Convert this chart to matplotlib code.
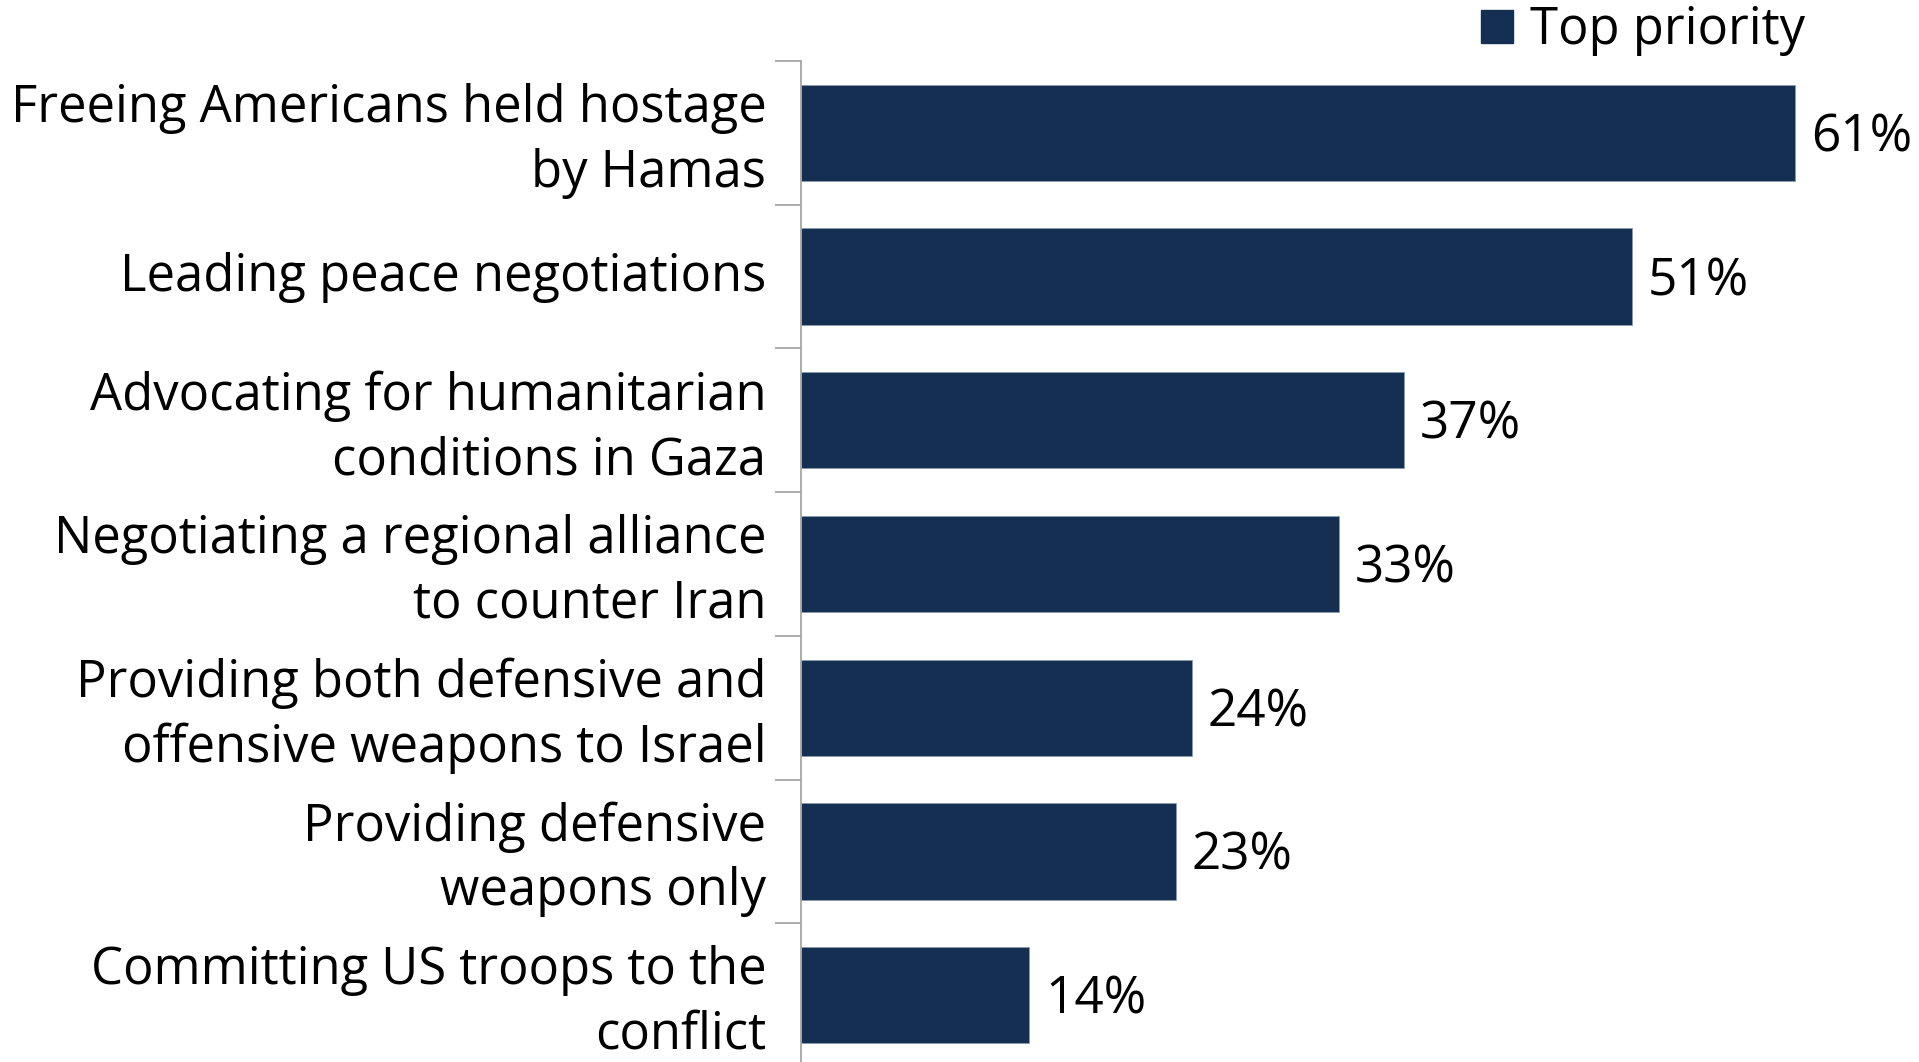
import numpy as np
import matplotlib.pyplot as plt
import matplotlib.transforms as mtransforms
from matplotlib.patches import Patch

categories = [
    "Freeing Americans held hostage\nby Hamas",
    "Leading peace negotiations",
    "Advocating for humanitarian\nconditions in Gaza",
    "Negotiating a regional alliance\nto counter Iran",
    "Providing both defensive and\noffensive weapons to Israel",
    "Providing defensive\nweapons only",
    "Committing US troops to the\nconflict",
]
top_priority = [61, 51, 37, 33, 24, 23, 14]

bar_color = '#152F52'
plt.rcParams['font.family'] = ['Open Sans', 'DejaVu Sans']

W, H = 1919, 1062
fig = plt.figure(figsize=(W / 100, H / 100), dpi=100)
ax_left, ax_top, ax_bottom = 801, 61, 1067
ax = fig.add_axes([ax_left / W, (H - ax_bottom) / H, (W - ax_left) / W, (ax_bottom - ax_top) / H])

y = np.arange(len(categories))
ax.barh(y, top_priority, height=0.67, color=bar_color, edgecolor='#8a9bb0', linewidth=0.6)
ax.set_ylim(len(categories) - 0.5, -0.5)
ax.set_xlim(0, (W - ax_left) / 16.29)

for yi, v in zip(y, top_priority):
    ax.annotate(f"{v}%", (v, yi), xytext=(16, -5), textcoords='offset pixels',
                va='center', ha='left', fontsize=37)

# category labels placed between tick marks
ax.set_yticks(np.arange(-0.5, len(categories) + 0.5, 1))
ax.set_yticklabels([])
ax.set_yticks(y, minor=True)
ax.set_yticklabels(categories, minor=True, fontsize=36.5, linespacing=1.35, ha='right')
ax.tick_params(axis='y', which='minor', length=0, pad=25)
ax.tick_params(axis='y', which='major', length=19, color='#A6A6A6', width=1.3)
ax.set_xticks([])

shift = mtransforms.ScaledTranslation(0, 5 / 100, fig.dpi_scale_trans)
for lbl in ax.get_yticklabels(minor=True):
    lbl.set_transform(lbl.get_transform() + shift)

for s in ['top', 'right', 'bottom']:
    ax.spines[s].set_visible(False)
ax.spines['left'].set_color('#A6A6A6')
ax.spines['left'].set_linewidth(1.3)

fig.legend(handles=[Patch(color=bar_color, label='Top priority')],
           loc='center left', bbox_to_anchor=(1481 / W, 1 - 31 / H),
           frameon=False, fontsize=36.5, handlelength=0.63, handleheight=0.63,
           handletextpad=0.33, borderpad=0, borderaxespad=0)

fig.savefig('out.png', dpi=100)
